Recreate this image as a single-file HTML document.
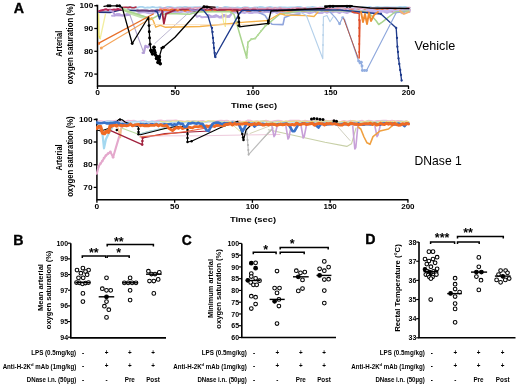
<!DOCTYPE html>
<html><head><meta charset="utf-8"><style>
html,body{margin:0;padding:0;background:#fff;}
svg{display:block;font-family:"Liberation Sans", sans-serif;filter:blur(0.35px);}
</style></head><body>
<svg width="520" height="386" viewBox="0 0 520 386" font-family='"Liberation Sans", sans-serif'>
<rect width="520" height="386" fill="#fff"/>
<path d="M96.0,5.5 H97.5 V86.0 H408.8" fill="none" stroke="#000" stroke-width="1.5"/>
<line x1="94.3" y1="5.7" x2="97.5" y2="5.7" stroke="#000" stroke-width="1.3" />
<text x="93.2" y="8.1" font-size="6.9" text-anchor="end" font-weight="bold" fill="#000" textLength="13.7" lengthAdjust="spacingAndGlyphs" >100</text>
<line x1="94.3" y1="28.5" x2="97.5" y2="28.5" stroke="#000" stroke-width="1.3" />
<text x="93.2" y="30.9" font-size="6.9" text-anchor="end" font-weight="bold" fill="#000" textLength="9.3" lengthAdjust="spacingAndGlyphs" >90</text>
<line x1="94.3" y1="51.3" x2="97.5" y2="51.3" stroke="#000" stroke-width="1.3" />
<text x="93.2" y="53.699999999999996" font-size="6.9" text-anchor="end" font-weight="bold" fill="#000" textLength="9.3" lengthAdjust="spacingAndGlyphs" >80</text>
<line x1="94.3" y1="74.1" x2="97.5" y2="74.1" stroke="#000" stroke-width="1.3" />
<text x="93.2" y="76.5" font-size="6.9" text-anchor="end" font-weight="bold" fill="#000" textLength="9.3" lengthAdjust="spacingAndGlyphs" >70</text>
<line x1="97.5" y1="86.0" x2="97.5" y2="89.0" stroke="#000" stroke-width="1.3" />
<text x="97.5" y="95.3" font-size="6.9" text-anchor="middle" font-weight="bold" fill="#000" textLength="4.7" lengthAdjust="spacingAndGlyphs" >0</text>
<line x1="175.25" y1="86.0" x2="175.25" y2="89.0" stroke="#000" stroke-width="1.3" />
<text x="175.25" y="95.3" font-size="6.9" text-anchor="middle" font-weight="bold" fill="#000" textLength="9.3" lengthAdjust="spacingAndGlyphs" >50</text>
<line x1="253.0" y1="86.0" x2="253.0" y2="89.0" stroke="#000" stroke-width="1.3" />
<text x="253.0" y="95.3" font-size="6.9" text-anchor="middle" font-weight="bold" fill="#000" textLength="13.4" lengthAdjust="spacingAndGlyphs" >100</text>
<line x1="330.75" y1="86.0" x2="330.75" y2="89.0" stroke="#000" stroke-width="1.3" />
<text x="330.75" y="95.3" font-size="6.9" text-anchor="middle" font-weight="bold" fill="#000" textLength="13.4" lengthAdjust="spacingAndGlyphs" >150</text>
<line x1="408.5" y1="86.0" x2="408.5" y2="89.0" stroke="#000" stroke-width="1.3" />
<text x="408.5" y="95.3" font-size="6.9" text-anchor="middle" font-weight="bold" fill="#000" textLength="13.4" lengthAdjust="spacingAndGlyphs" >200</text>
<path d="M95.4,119.3 H96.9 V199.8 H408.4" fill="none" stroke="#000" stroke-width="1.5"/>
<line x1="93.7" y1="119.5" x2="96.9" y2="119.5" stroke="#000" stroke-width="1.3" />
<text x="92.60000000000001" y="121.9" font-size="6.9" text-anchor="end" font-weight="bold" fill="#000" textLength="13.7" lengthAdjust="spacingAndGlyphs" >100</text>
<line x1="93.7" y1="142.0" x2="96.9" y2="142.0" stroke="#000" stroke-width="1.3" />
<text x="92.60000000000001" y="144.4" font-size="6.9" text-anchor="end" font-weight="bold" fill="#000" textLength="9.3" lengthAdjust="spacingAndGlyphs" >90</text>
<line x1="93.7" y1="164.7" x2="96.9" y2="164.7" stroke="#000" stroke-width="1.3" />
<text x="92.60000000000001" y="167.1" font-size="6.9" text-anchor="end" font-weight="bold" fill="#000" textLength="9.3" lengthAdjust="spacingAndGlyphs" >80</text>
<line x1="93.7" y1="187.4" x2="96.9" y2="187.4" stroke="#000" stroke-width="1.3" />
<text x="92.60000000000001" y="189.8" font-size="6.9" text-anchor="end" font-weight="bold" fill="#000" textLength="9.3" lengthAdjust="spacingAndGlyphs" >70</text>
<line x1="96.9" y1="199.8" x2="96.9" y2="202.8" stroke="#000" stroke-width="1.3" />
<text x="96.9" y="209.10000000000002" font-size="6.9" text-anchor="middle" font-weight="bold" fill="#000" textLength="4.7" lengthAdjust="spacingAndGlyphs" >0</text>
<line x1="174.65" y1="199.8" x2="174.65" y2="202.8" stroke="#000" stroke-width="1.3" />
<text x="174.65" y="209.10000000000002" font-size="6.9" text-anchor="middle" font-weight="bold" fill="#000" textLength="9.3" lengthAdjust="spacingAndGlyphs" >50</text>
<line x1="252.4" y1="199.8" x2="252.4" y2="202.8" stroke="#000" stroke-width="1.3" />
<text x="252.4" y="209.10000000000002" font-size="6.9" text-anchor="middle" font-weight="bold" fill="#000" textLength="13.4" lengthAdjust="spacingAndGlyphs" >100</text>
<line x1="330.15" y1="199.8" x2="330.15" y2="202.8" stroke="#000" stroke-width="1.3" />
<text x="330.15" y="209.10000000000002" font-size="6.9" text-anchor="middle" font-weight="bold" fill="#000" textLength="13.4" lengthAdjust="spacingAndGlyphs" >150</text>
<line x1="407.9" y1="199.8" x2="407.9" y2="202.8" stroke="#000" stroke-width="1.3" />
<text x="407.9" y="209.10000000000002" font-size="6.9" text-anchor="middle" font-weight="bold" fill="#000" textLength="13.4" lengthAdjust="spacingAndGlyphs" >200</text>
<g transform="translate(61.6,43.8) rotate(-90)"><text x="0" y="0" font-size="8.5" font-weight="bold" text-anchor="middle" textLength="26" lengthAdjust="spacingAndGlyphs">Arterial</text></g>
<g transform="translate(73.2,44.0) rotate(-90)"><text x="0" y="0" font-size="8.6" font-weight="bold" text-anchor="middle" textLength="80.5" lengthAdjust="spacingAndGlyphs">oxygen saturation (%)</text></g>
<g transform="translate(61.6,157.4) rotate(-90)"><text x="0" y="0" font-size="8.5" font-weight="bold" text-anchor="middle" textLength="26" lengthAdjust="spacingAndGlyphs">Arterial</text></g>
<g transform="translate(73.2,156.6) rotate(-90)"><text x="0" y="0" font-size="8.6" font-weight="bold" text-anchor="middle" textLength="80.5" lengthAdjust="spacingAndGlyphs">oxygen saturation (%)</text></g>
<text x="254.1" y="108.0" font-size="8.0" text-anchor="middle" font-weight="bold" fill="#000" textLength="46.2" lengthAdjust="spacingAndGlyphs" >Time (sec)</text>
<text x="253.0" y="221.8" font-size="8.0" text-anchor="middle" font-weight="bold" fill="#000" textLength="46.2" lengthAdjust="spacingAndGlyphs" >Time (sec)</text>
<text x="414.6" y="49.6" font-size="13" text-anchor="start" font-weight="normal" fill="#000" textLength="40.6" lengthAdjust="spacingAndGlyphs" >Vehicle</text>
<text x="414.6" y="164.6" font-size="13" text-anchor="start" font-weight="normal" fill="#000" textLength="47.2" lengthAdjust="spacingAndGlyphs" >DNase 1</text>
<text x="13.8" y="13.1" font-size="14.2" text-anchor="start" font-weight="bold" fill="#000" stroke="#000" stroke-width="0.35">A</text>
<defs><clipPath id="clipTop"><rect x="98.3" y="2" width="314" height="83"/></clipPath><clipPath id="clipBot"><rect x="96" y="115" width="316" height="84"/></clipPath></defs>
<g clip-path="url(#clipTop)">
<polyline points="120.0,7.0 122.5,7.8 125.0,7.7 127.5,7.1 130.0,7.4 132.5,7.3 135.0,7.6 137.5,7.7 140.0,6.9 142.5,6.8 145.0,7.8 147.5,7.3 150.0,7.7 152.5,6.8 155.0,7.3 157.5,7.7 160.0,7.1 162.5,7.9 165.0,7.9 167.5,6.8 170.0,6.8 172.5,7.4 175.0,7.9 177.5,7.3 180.0,7.1 182.5,7.3 185.0,6.8 187.5,7.1 190.0,7.3 192.5,7.4 195.0,7.1 197.5,7.1 200.0,7.1 202.5,7.4 205.0,7.1 207.5,6.8 210.0,7.8 212.5,7.5 215.0,7.6 217.5,7.0 220.0,8.0 222.5,7.8 225.0,6.9 227.5,7.2 230.0,7.7 232.5,7.7 235.0,7.9 237.5,7.3 240.0,7.8 242.5,7.6 245.0,7.2 247.5,7.5 250.0,7.9 252.5,7.8 255.0,7.4 257.5,7.5 260.0,6.8 262.5,7.1 265.0,7.8 267.5,7.3 270.0,7.0 272.5,7.5 275.0,7.6 277.5,7.6 280.0,7.2 282.5,7.3 285.0,7.4 287.5,7.7 290.0,7.4 292.5,7.3 295.0,7.4 297.5,6.8 300.0,6.9 302.5,7.6 305.0,8.0 307.5,7.5 310.0,7.3 312.5,7.0 315.0,7.4 317.5,8.0 320.0,7.7 322.5,7.4 325.0,7.8 327.5,7.1 330.0,7.4 332.5,7.9 335.0,7.5 337.5,7.4 340.0,7.1 342.5,7.5 345.0,7.9 347.5,6.8 350.0,7.7 352.5,7.8 355.0,7.9 357.5,7.7 360.0,7.8 362.5,7.4 365.0,7.5 367.5,7.3 370.0,6.9 372.5,7.8 375.0,7.5 377.5,7.0 380.0,7.4 382.5,7.4 385.0,7.2 387.5,7.2 390.0,7.4 392.5,7.5 395.0,7.5 397.5,7.3 400.0,6.8 402.5,7.1 405.0,7.0 407.5,7.5 410.0,7.8" fill="none" stroke="#a9d4ef" stroke-width="1.8" stroke-linejoin="round" stroke-linecap="round" />
<polyline points="98.0,12.2 110.0,12.4 120.0,10.0 138.0,10.6 155.0,11.0 157.3,12.0" fill="none" stroke="#24327a" stroke-width="1.7" stroke-linejoin="round" stroke-linecap="round" />
<polyline points="160.0,10.9 163.0,10.7 166.0,10.9 169.0,10.5 172.0,11.1 175.0,11.1 178.0,11.0 181.0,10.5 184.0,10.8 187.0,10.6 190.0,10.5 193.0,11.3 196.0,11.3 199.0,10.3 202.0,11.2 205.0,10.9 208.0,10.7 211.0,10.6 214.0,11.0 217.0,10.8 220.0,11.0 223.0,11.0 226.0,10.4 229.0,11.1 232.0,11.3 235.0,11.3 238.0,10.9 241.0,10.3 244.0,10.3 247.0,10.4 250.0,11.2 253.0,10.6 256.0,10.7 259.0,11.2 262.0,10.6 265.0,10.8 268.0,10.7 271.0,10.4 274.0,10.9 277.0,11.1 280.0,10.5 283.0,10.5 286.0,10.7 289.0,10.3 292.0,10.8 295.0,11.1 298.0,11.0 301.0,10.8 304.0,11.2 307.0,10.4 310.0,10.9 313.0,10.7 316.0,10.9 319.0,10.4 322.0,11.1 325.0,10.4 328.0,10.5 331.0,11.1 334.0,11.2 337.0,10.7 340.0,10.7 343.0,10.5 346.0,10.6 349.0,10.9 352.0,10.5 355.0,10.4 358.0,10.8 361.0,10.5 364.0,10.9 367.0,11.1 370.0,11.1 373.0,10.8 376.0,10.6 379.0,10.7 382.0,10.3 385.0,11.0 388.0,10.6 391.0,10.6 394.0,10.4 397.0,10.7 400.0,10.9 403.0,10.7 406.0,11.2 409.0,11.0" fill="none" stroke="#31458f" stroke-width="1.0" stroke-linejoin="round" stroke-linecap="round" />
<polyline points="112.0,15.7 114.5,15.7 117.0,13.9 119.5,14.0 122.0,15.5 124.5,15.3 127.0,13.8 129.5,13.1 132.0,13.7 134.5,13.7 137.0,13.7 139.5,12.8 142.0,12.2 144.5,12.1 147.0,12.7 149.5,13.3 152.0,13.2 154.5,12.4 157.0,12.2 159.5,11.8 162.0,11.4 164.5,11.4 167.0,12.2 169.5,11.9 172.0,12.1 174.5,13.1 177.0,12.4 179.5,12.4 182.0,11.8 184.5,11.3 187.0,12.0 189.5,11.6 192.0,12.3 194.5,13.3 197.0,16.8 199.5,15.9 202.0,17.3 204.5,17.1 207.0,17.0 209.5,17.3 212.0,17.0 214.5,17.1 217.0,16.2 219.5,17.5 222.0,17.4 224.5,15.8 227.0,17.0 229.5,16.9 232.0,12.2 234.5,12.4 237.0,12.3 239.5,13.1 242.0,12.3 244.5,13.0 247.0,12.0 249.5,13.1 252.0,13.1 254.5,12.2 257.0,12.4 259.5,13.1 262.0,12.7 264.5,12.3 267.0,11.7 269.5,11.9 272.0,12.7 274.5,11.6 277.0,13.1 279.5,11.8 282.0,13.1 284.5,11.9 287.0,13.2 289.5,12.7 292.0,12.3 294.5,12.3 297.0,12.6 299.5,12.5 302.0,11.9 304.5,11.7 307.0,12.3 309.5,13.2 312.0,12.5 314.5,11.5 317.0,12.9 319.5,12.8 322.0,13.1 324.5,11.7 327.0,12.8 329.5,11.4 332.0,12.6 334.5,11.8 337.0,11.8 339.5,13.1 342.0,11.5 344.5,12.3 347.0,13.0 349.5,11.8 352.0,11.7 354.5,13.1 357.0,12.1 359.5,12.7 362.0,11.4 364.5,12.0 367.0,11.6 369.5,12.6 372.0,11.5 374.5,13.2 377.0,11.4 379.5,12.8 382.0,11.3 384.5,11.8 387.0,12.9 389.5,11.6 392.0,11.7 394.5,12.7 397.0,12.1 399.5,11.4 402.0,13.3 404.5,11.6 407.0,11.4 409.5,12.0" fill="none" stroke="#bfaee4" stroke-width="2.0" stroke-linejoin="round" stroke-linecap="round" />
<polyline points="98.0,10.9 100.0,10.8 102.0,10.2 104.0,9.8 106.0,9.3 108.0,10.1 110.0,9.7 112.0,10.0 114.0,9.4 116.0,9.8 118.0,9.0 120.0,9.6 122.0,9.4" fill="none" stroke="#b82858" stroke-width="2.0" stroke-linejoin="round" stroke-linecap="round" />
<polyline points="122.0,7.7 124.0,7.2 126.0,7.2 128.0,7.6 130.0,7.1 132.0,7.8 134.0,7.8 136.0,7.0" fill="none" stroke="#b03048" stroke-width="1.6" stroke-linejoin="round" stroke-linecap="round" />
<polyline points="137.0,10.5 139.5,10.6 142.0,10.5 144.5,10.5 147.0,10.5 149.5,10.8 152.0,10.4 154.5,10.7 157.0,10.1 159.5,10.4" fill="none" stroke="#6a3a78" stroke-width="1.8" stroke-linejoin="round" stroke-linecap="round" />
<polyline points="160.0,9.5 162.5,10.1 165.0,9.8 167.5,10.2 170.0,10.2 172.5,9.2 175.0,9.1 177.5,10.6 180.0,9.6 182.5,9.5 185.0,10.9 187.5,9.9 190.0,10.6 192.5,10.0 195.0,10.3 197.5,9.4 200.0,10.2 202.5,10.7 205.0,10.0 207.5,10.4 210.0,10.3 212.5,9.2 215.0,10.5 217.5,10.2 220.0,9.6 222.5,9.2 225.0,10.7 227.5,10.0 230.0,10.4 232.5,10.7 235.0,10.4 237.5,10.8 240.0,9.8 242.5,10.5 245.0,9.9 247.5,10.8 250.0,10.7 252.5,9.3 255.0,9.3 257.5,9.5 260.0,10.8 262.5,9.9 265.0,10.2 267.5,9.6 270.0,10.0 272.5,9.8 275.0,9.7 277.5,10.2 280.0,10.2 282.5,10.7 285.0,10.3 287.5,10.8 290.0,10.6 292.5,10.9 295.0,10.3 297.5,9.4 300.0,10.6 302.5,10.8 305.0,10.7 307.5,10.1 310.0,10.4 312.5,9.5 315.0,10.6 317.5,10.1 320.0,9.6 322.5,9.2 325.0,10.6 327.5,10.9 330.0,9.3 332.5,10.5 335.0,9.8 337.5,9.4 340.0,9.6 342.5,10.5 345.0,10.7 347.5,9.2 350.0,10.2 352.5,9.2 355.0,10.4 357.5,9.7 360.0,10.7 362.5,10.9 365.0,10.0 367.5,10.9 370.0,9.7 372.5,9.2 375.0,10.2 377.5,9.2 380.0,9.5 382.5,9.8 385.0,10.2 387.5,9.4 390.0,9.2 392.5,10.7 395.0,9.7 397.5,10.8 400.0,10.7 402.5,9.8 405.0,9.9 407.5,10.0 410.0,10.3" fill="none" stroke="#ee6a2a" stroke-width="1.9" stroke-linejoin="round" stroke-linecap="round" />
<polyline points="180.0,9.0 182.5,8.8 185.0,9.2 187.5,8.8 190.0,8.7 192.5,9.2 195.0,10.1 197.5,9.9 200.0,9.8 202.5,9.0 205.0,9.5 207.5,9.0 210.0,8.9 212.5,8.8 215.0,8.9 217.5,10.1 220.0,9.9 222.5,9.9 225.0,9.9 227.5,8.9 230.0,9.1 232.5,9.6 235.0,9.8 237.5,10.0 240.0,10.0 242.5,8.7 245.0,9.6 247.5,9.7 250.0,9.4 252.5,8.9 255.0,9.4 257.5,8.7 260.0,10.1 262.5,10.0 265.0,9.5 267.5,9.1 270.0,10.1 272.5,9.5 275.0,10.0 277.5,10.0 280.0,9.4 282.5,9.3 285.0,9.6 287.5,9.3 290.0,8.9 292.5,9.1 295.0,9.9 297.5,8.7 300.0,8.7 302.5,9.6 305.0,9.0 307.5,9.5 310.0,9.4 312.5,9.1 315.0,10.2 317.5,8.9 320.0,9.3 322.5,8.9 325.0,9.6 327.5,9.0 330.0,9.2" fill="none" stroke="#a52a48" stroke-width="2.0" stroke-linejoin="round" stroke-linecap="round" />
<polyline points="190.0,9.6 192.0,10.2 194.0,10.2 196.0,10.4 198.0,9.8 200.0,9.8 202.0,10.2 204.0,10.2" fill="none" stroke="#9a86d0" stroke-width="1.8" stroke-linejoin="round" stroke-linecap="round" />
<polyline points="160.0,7.8 162.5,8.8 165.0,7.7 167.5,8.5 170.0,7.6 172.5,7.8 175.0,8.9 177.5,7.8 180.0,8.4 182.5,8.1 185.0,8.1 187.5,8.2 190.0,7.8 192.5,8.7 195.0,7.6 197.5,7.8 200.0,7.5 202.5,7.9 205.0,8.1 207.5,8.8 210.0,8.0 212.5,7.7 215.0,7.9 217.5,8.9 220.0,7.6 222.5,8.4 225.0,8.0 227.5,8.4 230.0,8.0 232.5,8.5 235.0,8.2 237.5,8.4 240.0,8.8 242.5,8.3 245.0,7.7 247.5,7.6 250.0,8.8 252.5,8.2 255.0,7.8 257.5,8.8 260.0,8.3 262.5,8.5 265.0,8.7 267.5,7.9 270.0,8.0 272.5,8.7 275.0,7.7 277.5,8.6 280.0,7.6 282.5,8.5 285.0,8.5 287.5,8.8 290.0,8.7 292.5,8.2 295.0,7.8 297.5,7.7 300.0,8.2 302.5,8.2 305.0,7.6 307.5,8.8 310.0,8.2 312.5,8.5 315.0,7.8 317.5,7.8 320.0,7.5 322.5,8.0 325.0,7.9 327.5,8.1 330.0,8.0 332.5,8.7 335.0,8.7 337.5,7.7 340.0,8.1 342.5,7.7 345.0,8.4 347.5,8.9 350.0,7.8 352.5,8.6 355.0,7.9 357.5,7.5 360.0,8.6 362.5,8.0 365.0,7.7 367.5,8.1 370.0,7.8 372.5,8.1 375.0,8.1 377.5,8.1 380.0,8.3 382.5,7.9 385.0,7.6 387.5,7.6 390.0,7.6 392.5,8.2 395.0,8.0 397.5,8.6 400.0,8.2 402.5,8.5 405.0,8.9 407.5,7.6 410.0,7.5" fill="none" stroke="#e09ab8" stroke-width="1.3" stroke-linejoin="round" stroke-linecap="round" />
<polyline points="330.0,10.5 332.5,10.4 335.0,10.1 337.5,11.1 340.0,9.9 342.5,10.6 345.0,11.2 347.5,10.0 350.0,10.7 352.5,10.8 355.0,10.0 357.5,10.4 360.0,10.9 362.5,10.5 365.0,10.9 367.5,10.1 370.0,10.2 372.5,10.1 375.0,10.6 377.5,11.2 380.0,10.7 382.5,11.0 385.0,10.4 387.5,10.9 390.0,10.0 392.5,10.3 395.0,10.8 397.5,10.9 400.0,10.5 402.5,10.0 405.0,10.3 407.5,10.2 410.0,10.3" fill="none" stroke="#c8b8ee" stroke-width="2.2" stroke-linejoin="round" stroke-linecap="round" />
<polyline points="203.5,6.2 215.0,7.2" fill="none" stroke="#3a1a1a" stroke-width="1.6" stroke-linejoin="round" stroke-linecap="round" />
<polyline points="325.0,6.3 352.0,6.0" fill="none" stroke="#000" stroke-width="1.9" stroke-linejoin="round" stroke-linecap="round" />
<polyline points="208.0,14.6 212.0,16.5 216.0,15.0 220.0,17.0 224.0,14.8 228.0,16.4 231.0,14.8" fill="none" stroke="#b9a6e0" stroke-width="1.8" stroke-linejoin="round" stroke-linecap="round" />
<polyline points="260.0,13.0 265.0,15.4 268.0,20.0 272.0,24.2 283.0,24.6 284.5,17.5 291.0,15.0 300.0,14.0" fill="none" stroke="#8fa4dc" stroke-width="1.6" stroke-linejoin="round" stroke-linecap="round" />
<polyline points="98.4,13.6 98.8,36.0 100.2,38.5" fill="none" stroke="#e8e050" stroke-width="1.6" stroke-linejoin="round" stroke-linecap="round" />
<polyline points="100.2,38.5 105.5,14.0" fill="none" stroke="#f2eea0" stroke-width="1.3" stroke-linejoin="round" stroke-linecap="round" />
<polyline points="222.0,13.0 223.6,22.0 225.4,27.0 226.0,14.0" fill="none" stroke="#f2ec8a" stroke-width="1.0" stroke-linejoin="round" stroke-linecap="round" />
<polyline points="110.0,10.5 113.1,11.8 115.0,15.2 124.0,15.4 129.8,14.8" fill="none" stroke="#b8a0dc" stroke-width="2.0" stroke-linejoin="round" stroke-linecap="round" />
<polyline points="142.6,52.8 143.8,52.9 145.4,45.8 147.8,47.3 150.0,44.0" fill="none" stroke="#b8a0dc" stroke-width="2.2" stroke-linejoin="round" stroke-linecap="round" />
<polyline points="129.8,14.8 143.8,52.9" fill="none" stroke="#b0a4cc" stroke-width="1.1" stroke-linejoin="round" stroke-linecap="round" />
<polyline points="154.8,43.5 189.8,11.7" fill="none" stroke="#b6b0cc" stroke-width="0.9" stroke-linejoin="round" stroke-linecap="round" />
<polyline points="124.0,9.5 132.0,13.5 140.0,16.2 148.4,18.5" fill="none" stroke="#c4e2ae" stroke-width="3.2" stroke-linejoin="round" stroke-linecap="round" />
<polyline points="122.0,9.5 124.0,10.4 131.3,12.2 138.5,14.5 147.6,17.6 150.4,19.6 160.0,14.5 170.0,13.6 189.6,14.2 197.0,12.0 229.5,11.5 234.0,14.3 240.0,35.0 246.7,57.8 248.0,42.3 251.3,39.2 255.2,38.4 265.3,26.0 269.2,22.9 280.0,14.0 300.0,11.0 330.0,10.5 365.0,11.5 372.0,16.0 376.3,21.0 378.7,24.5 382.2,22.2 395.0,12.0 409.0,11.0" fill="none" stroke="#a9d48e" stroke-width="1.5" stroke-linejoin="round" stroke-linecap="round" />
<circle cx="246.7" cy="57.8" r="1.1" fill="#b5dc9c"/>
<circle cx="247.2" cy="52.0" r="1.1" fill="#b5dc9c"/>
<circle cx="247.6" cy="47.0" r="1.1" fill="#b5dc9c"/>
<circle cx="248.0" cy="42.3" r="1.1" fill="#b5dc9c"/>
<circle cx="251.3" cy="39.2" r="1.1" fill="#b5dc9c"/>
<circle cx="255.2" cy="38.4" r="1.1" fill="#b5dc9c"/>
<circle cx="258.0" cy="35.0" r="1.1" fill="#b5dc9c"/>
<circle cx="261.0" cy="31.0" r="1.1" fill="#b5dc9c"/>
<circle cx="265.3" cy="26.0" r="1.1" fill="#b5dc9c"/>
<polyline points="98.3,43.5 153.3,14.0" fill="none" stroke="#e8702a" stroke-width="1.4" stroke-linejoin="round" stroke-linecap="round" />
<polyline points="101.3,48.0 152.1,17.5" fill="none" stroke="#f5a55a" stroke-width="1.1" stroke-linejoin="round" stroke-linecap="round" />
<circle cx="98.3" cy="43.5" r="1.8" fill="#e8702a"/>
<circle cx="101.3" cy="48.0" r="1.5" fill="#f5a55a"/>
<polyline points="149.4,18.1 153.0,20.0 155.8,27.2 160.3,25.4 165.0,27.2 200.0,26.5 245.0,22.1 268.3,20.5 280.0,13.5 285.0,15.0 306.0,15.6 314.0,16.5 318.0,12.0" fill="none" stroke="#f5b24a" stroke-width="1.4" stroke-linejoin="round" stroke-linecap="round" />
<polyline points="150.0,24.5 245.0,24.8 270.0,23.0" fill="none" stroke="#f8dcb8" stroke-width="0.8" stroke-linejoin="round" stroke-linecap="round" />
<polyline points="155.0,11.0 157.3,12.0 159.6,19.0 161.0,13.8 163.0,12.0" fill="none" stroke="#1f3b8c" stroke-width="1.5" stroke-linejoin="round" stroke-linecap="round" />
<polyline points="200.0,9.2 203.5,10.4 208.0,16.0 211.7,28.3 213.0,38.0 214.0,48.0 214.8,57.0 238.9,14.3 242.0,10.5 260.0,10.5 300.0,10.0 340.0,10.0 381.0,14.0 396.2,28.0 397.4,46.7 398.5,58.4 400.2,70.0 401.6,80.5" fill="none" stroke="#1f3b8c" stroke-width="1.35" stroke-linejoin="round" stroke-linecap="round" />
<circle cx="212.0" cy="28.0" r="1.15" fill="#1f3b8c"/>
<circle cx="212.6" cy="32.0" r="1.15" fill="#1f3b8c"/>
<circle cx="213.0" cy="38.0" r="1.15" fill="#1f3b8c"/>
<circle cx="213.5" cy="43.0" r="1.15" fill="#1f3b8c"/>
<circle cx="214.0" cy="48.0" r="1.15" fill="#1f3b8c"/>
<circle cx="214.8" cy="53.0" r="1.15" fill="#1f3b8c"/>
<circle cx="215.5" cy="57.1" r="1.15" fill="#1f3b8c"/>
<circle cx="396.2" cy="28.0" r="1.15" fill="#1f3b8c"/>
<circle cx="397.0" cy="38.0" r="1.15" fill="#1f3b8c"/>
<circle cx="397.4" cy="46.7" r="1.15" fill="#1f3b8c"/>
<circle cx="398.0" cy="52.0" r="1.15" fill="#1f3b8c"/>
<circle cx="398.5" cy="58.4" r="1.15" fill="#1f3b8c"/>
<circle cx="399.3" cy="64.0" r="1.15" fill="#1f3b8c"/>
<circle cx="400.2" cy="70.0" r="1.15" fill="#1f3b8c"/>
<circle cx="401.0" cy="75.0" r="1.15" fill="#1f3b8c"/>
<circle cx="401.6" cy="80.5" r="1.15" fill="#1f3b8c"/>
<circle cx="381.0" cy="14.0" r="1.15" fill="#1f3b8c"/>
<polyline points="162.1,10.9 163.9,23.6 166.0,13.8 175.0,10.0" fill="none" stroke="#a0203c" stroke-width="1.8" stroke-linejoin="round" stroke-linecap="round" />
<polyline points="104.0,6.3 107.3,5.8 118.0,5.8 122.2,7.3 132.2,43.5 148.6,17.0 149.0,25.6 149.3,31.8 149.6,38.0 150.1,44.2 150.9,50.4 151.7,52.0 154.0,47.3 154.3,50.4 155.6,55.1 157.1,56.7 157.9,59.0 158.7,61.3 160.2,63.7 159.4,56.7 161.8,48.1 163.3,47.3 175.0,37.2 200.3,9.3 204.0,6.8 208.0,7.2 212.0,8.5" fill="none" stroke="#000" stroke-width="1.3" stroke-linejoin="round" stroke-linecap="round" />
<polyline points="237.0,11.0 238.3,14.3 238.9,20.5 239.7,26.8 245.0,26.2 268.3,23.3 269.2,18.5 271.0,11.0 300.0,9.5 324.0,8.3 329.2,6.2 351.0,6.2 370.0,8.0 409.0,8.5" fill="none" stroke="#000" stroke-width="1.3" stroke-linejoin="round" stroke-linecap="round" />
<circle cx="150.9" cy="50.4" r="1.75" fill="#000"/>
<circle cx="151.7" cy="52.0" r="1.75" fill="#000"/>
<circle cx="154.0" cy="47.3" r="1.75" fill="#000"/>
<circle cx="154.3" cy="50.4" r="1.75" fill="#000"/>
<circle cx="155.6" cy="55.1" r="1.75" fill="#000"/>
<circle cx="157.1" cy="56.7" r="1.75" fill="#000"/>
<circle cx="157.9" cy="59.0" r="1.75" fill="#000"/>
<circle cx="158.7" cy="61.3" r="1.75" fill="#000"/>
<circle cx="160.2" cy="63.7" r="1.75" fill="#000"/>
<circle cx="159.4" cy="56.7" r="1.75" fill="#000"/>
<circle cx="156.5" cy="58.5" r="1.75" fill="#000"/>
<circle cx="158.0" cy="62.5" r="1.75" fill="#000"/>
<circle cx="159.5" cy="60.0" r="1.75" fill="#000"/>
<circle cx="155.0" cy="52.5" r="1.75" fill="#000"/>
<circle cx="152.5" cy="54.0" r="1.75" fill="#000"/>
<circle cx="132.2" cy="43.5" r="1.45" fill="#000"/>
<circle cx="149.0" cy="25.6" r="1.45" fill="#000"/>
<circle cx="149.3" cy="31.8" r="1.45" fill="#000"/>
<circle cx="149.6" cy="38.0" r="1.45" fill="#000"/>
<circle cx="150.1" cy="44.2" r="1.45" fill="#000"/>
<circle cx="150.9" cy="50.4" r="1.45" fill="#000"/>
<circle cx="151.7" cy="52.0" r="1.45" fill="#000"/>
<circle cx="154.0" cy="47.3" r="1.45" fill="#000"/>
<circle cx="154.3" cy="50.4" r="1.45" fill="#000"/>
<circle cx="155.6" cy="55.1" r="1.45" fill="#000"/>
<circle cx="157.1" cy="56.7" r="1.45" fill="#000"/>
<circle cx="157.9" cy="59.0" r="1.45" fill="#000"/>
<circle cx="158.7" cy="61.3" r="1.45" fill="#000"/>
<circle cx="160.2" cy="63.7" r="1.45" fill="#000"/>
<circle cx="159.4" cy="56.7" r="1.45" fill="#000"/>
<circle cx="161.8" cy="48.1" r="1.45" fill="#000"/>
<circle cx="163.3" cy="47.3" r="1.45" fill="#000"/>
<circle cx="156.5" cy="58.5" r="1.45" fill="#000"/>
<circle cx="158.0" cy="62.5" r="1.45" fill="#000"/>
<circle cx="238.8" cy="18.0" r="1.45" fill="#000"/>
<circle cx="238.8" cy="22.0" r="1.45" fill="#000"/>
<circle cx="238.8" cy="25.6" r="1.45" fill="#000"/>
<circle cx="268.3" cy="21.0" r="1.45" fill="#000"/>
<circle cx="268.3" cy="23.3" r="1.45" fill="#000"/>
<circle cx="108.0" cy="5.8" r="1.5" fill="#000"/>
<circle cx="110.0" cy="5.8" r="1.5" fill="#000"/>
<circle cx="117.0" cy="5.8" r="1.5" fill="#000"/>
<circle cx="119.5" cy="5.8" r="1.5" fill="#000"/>
<circle cx="330.0" cy="6.2" r="1.5" fill="#000"/>
<circle cx="333.0" cy="6.2" r="1.5" fill="#000"/>
<circle cx="347.0" cy="6.2" r="1.5" fill="#000"/>
<circle cx="350.0" cy="6.2" r="1.5" fill="#000"/>
<circle cx="204.0" cy="6.8" r="1.5" fill="#000"/>
<circle cx="207.0" cy="7.0" r="1.5" fill="#000"/>
<polyline points="300.0,12.0 306.4,15.5 322.8,58.7 323.4,16.7 327.0,15.5 330.0,21.8 333.0,17.0" fill="none" stroke="#b4d0ea" stroke-width="1.1" stroke-linejoin="round" stroke-linecap="round" />
<circle cx="323.0" cy="25.0" r="0.8" fill="#a8c8e4"/>
<circle cx="323.0" cy="35.0" r="0.8" fill="#a8c8e4"/>
<circle cx="323.0" cy="45.0" r="0.8" fill="#a8c8e4"/>
<polyline points="330.0,12.0 335.4,17.6 339.6,23.8 342.7,17.6 344.7,19.7 358.2,60.1 361.3,62.2 362.4,70.5 366.5,70.5 396.2,12.8 405.0,12.0" fill="none" stroke="#8fa8dc" stroke-width="1.15" stroke-linejoin="round" stroke-linecap="round" />
<circle cx="358.6" cy="61.0" r="1.45" fill="#93aee0"/>
<circle cx="360.0" cy="63.0" r="1.45" fill="#93aee0"/>
<circle cx="361.3" cy="62.2" r="1.45" fill="#93aee0"/>
<circle cx="362.0" cy="66.0" r="1.45" fill="#93aee0"/>
<circle cx="362.4" cy="70.5" r="1.45" fill="#93aee0"/>
<circle cx="364.5" cy="70.5" r="1.45" fill="#93aee0"/>
<circle cx="366.5" cy="70.5" r="1.45" fill="#93aee0"/>
<circle cx="339.6" cy="23.8" r="1.45" fill="#93aee0"/>
<circle cx="342.7" cy="17.6" r="1.45" fill="#93aee0"/>
<polyline points="343.7,18.7 358.2,58.0" fill="none" stroke="#b45a4a" stroke-width="1.0" stroke-linejoin="round" stroke-linecap="round" />
<polyline points="352.0,12.0 359.2,13.5 359.2,58.0 360.0,20.0" fill="none" stroke="#e0502a" stroke-width="1.4" stroke-linejoin="round" stroke-linecap="round" />
<circle cx="359.2" cy="20.0" r="1.0" fill="#e0502a"/>
<circle cx="359.2" cy="28.0" r="1.0" fill="#e0502a"/>
<circle cx="359.2" cy="36.0" r="1.0" fill="#e0502a"/>
<circle cx="359.2" cy="44.0" r="1.0" fill="#e0502a"/>
<circle cx="359.2" cy="52.0" r="1.0" fill="#e0502a"/>
<polyline points="361.0,12.0 363.0,22.0 365.0,14.0 367.0,24.0 369.0,13.0 371.0,21.0 374.0,15.0 378.0,12.0" fill="none" stroke="#f08a30" stroke-width="1.9" stroke-linejoin="round" stroke-linecap="round" />
<polyline points="400.0,11.0 404.0,14.0 409.0,12.0" fill="none" stroke="#f5b070" stroke-width="1.8" stroke-linejoin="round" stroke-linecap="round" />
</g>
<g clip-path="url(#clipBot)">
<polyline points="98.0,120.9 101.0,121.1 104.0,121.6 107.0,121.0 110.0,121.0 113.0,121.1 116.0,120.6 119.0,121.0 122.0,121.2 125.0,121.4 128.0,120.4 131.0,120.7 134.0,120.4 137.0,121.4 140.0,121.3 143.0,120.4 146.0,121.7 149.0,121.7 152.0,121.2 155.0,121.2 158.0,120.5 161.0,120.3 164.0,121.0 167.0,120.4 170.0,120.6 173.0,120.6 176.0,120.3 179.0,120.9 182.0,120.9 185.0,121.5 188.0,121.0 191.0,121.2 194.0,121.0 197.0,121.2 200.0,120.9 203.0,120.7 206.0,121.7 209.0,121.7 212.0,121.5 215.0,121.3 218.0,120.7 221.0,120.6 224.0,120.7 227.0,120.4 230.0,121.4 233.0,120.9 236.0,121.5 239.0,120.8 242.0,121.6 245.0,121.5 248.0,120.3 251.0,120.6 254.0,121.6 257.0,121.0 260.0,121.7 263.0,120.9 266.0,120.4 269.0,121.2 272.0,121.4 275.0,120.7 278.0,120.4 281.0,120.8 284.0,121.6 287.0,121.4 290.0,120.5 293.0,120.6 296.0,120.4 299.0,120.4 302.0,121.4 305.0,120.5 308.0,121.1 311.0,120.9 314.0,120.6 317.0,121.3 320.0,120.5 323.0,121.2 326.0,120.5 329.0,120.9 332.0,120.6 335.0,120.7 338.0,121.7 341.0,121.4 344.0,120.7 347.0,121.5 350.0,120.6 353.0,120.9 356.0,121.5 359.0,121.2 362.0,120.4 365.0,121.7 368.0,120.6 371.0,120.7 374.0,121.4 377.0,120.8 380.0,120.7 383.0,120.4 386.0,120.4 389.0,121.1 392.0,120.6 395.0,121.1 398.0,120.8 401.0,120.9 404.0,121.6 407.0,121.0" fill="none" stroke="#f0b8d8" stroke-width="1.5" stroke-linejoin="round" stroke-linecap="round" />
<polyline points="98.0,122.0 101.0,122.3 104.0,122.3 107.0,121.4 110.0,121.2 113.0,121.8 116.0,121.6 119.0,122.5 122.0,122.3 125.0,122.2 128.0,122.1 131.0,122.3 134.0,121.4 137.0,121.9 140.0,121.5 143.0,122.6 146.0,121.3 149.0,122.5 152.0,121.3 155.0,122.3 158.0,121.7 161.0,121.8 164.0,122.5 167.0,121.2 170.0,121.3 173.0,122.7 176.0,122.0 179.0,121.3 182.0,122.8 185.0,122.7 188.0,121.4 191.0,121.9 194.0,121.4 197.0,121.7 200.0,122.2 203.0,121.5 206.0,122.3 209.0,121.3 212.0,121.5 215.0,122.5 218.0,121.8 221.0,121.9 224.0,122.2 227.0,122.0 230.0,121.8 233.0,121.2 236.0,122.4 239.0,122.7 242.0,122.8 245.0,122.3 248.0,121.8 251.0,121.8 254.0,122.3 257.0,122.3 260.0,121.4 263.0,121.6 266.0,121.8 269.0,122.0 272.0,122.5 275.0,122.0 278.0,121.2 281.0,122.5 284.0,121.9 287.0,122.0 290.0,121.6 293.0,121.9 296.0,121.8 299.0,122.4 302.0,121.4 305.0,122.1 308.0,121.5 311.0,122.3 314.0,121.3 317.0,121.6 320.0,121.8 323.0,122.2 326.0,121.3 329.0,121.9 332.0,121.5 335.0,121.7 338.0,122.0 341.0,122.7 344.0,122.0 347.0,122.7 350.0,121.5 353.0,122.7 356.0,121.8 359.0,121.5 362.0,122.4 365.0,122.7 368.0,121.2 371.0,121.6 374.0,122.4 377.0,121.7 380.0,121.6 383.0,121.2 386.0,121.3 389.0,122.2 392.0,122.8 395.0,122.8 398.0,122.0 401.0,121.2 404.0,121.7 407.0,122.5" fill="none" stroke="#b0d8f0" stroke-width="1.6" stroke-linejoin="round" stroke-linecap="round" />
<polyline points="160.0,121.1 163.0,121.8 166.0,121.8 169.0,122.1 172.0,121.0 175.0,121.1 178.0,120.9 181.0,121.1 184.0,121.9 187.0,120.9 190.0,121.6 193.0,121.0 196.0,121.2 199.0,121.4 202.0,122.0 205.0,121.7 208.0,120.7 211.0,121.1 214.0,120.9 217.0,122.1 220.0,122.0 223.0,122.0 226.0,122.0 229.0,121.9 232.0,122.2 235.0,122.0 238.0,121.1 241.0,122.1 244.0,121.5 247.0,121.9 250.0,121.6 253.0,121.4 256.0,121.3 259.0,121.4 262.0,121.2 265.0,120.9 268.0,122.0 271.0,122.0 274.0,122.3 277.0,121.8 280.0,121.6 283.0,121.9 286.0,120.9 289.0,121.8 292.0,121.4 295.0,121.0 298.0,121.0 301.0,121.5 304.0,121.1 307.0,121.4 310.0,121.7 313.0,121.3 316.0,120.9 319.0,121.5 322.0,121.1 325.0,121.1 328.0,121.0 331.0,121.3 334.0,120.8 337.0,121.7 340.0,122.2 343.0,121.3 346.0,121.9 349.0,122.2 352.0,120.8 355.0,120.9 358.0,122.0 361.0,122.0 364.0,121.7 367.0,121.0 370.0,121.4 373.0,122.1 376.0,122.1 379.0,122.0 382.0,121.0 385.0,122.1 388.0,121.3 391.0,121.8 394.0,120.9 397.0,122.3 400.0,121.7 403.0,121.9 406.0,121.0 409.0,121.7" fill="none" stroke="#ece27a" stroke-width="1.0" stroke-linejoin="round" stroke-linecap="round" />
<polyline points="96.8,173.7 98.6,166.4 102.3,161.0 105.9,155.5 110.4,151.9 113.1,157.3 116.8,144.6 119.5,135.6 121.3,128.3 125.0,122.0" fill="none" stroke="#e4a8cc" stroke-width="2.1" stroke-linejoin="round" stroke-linecap="round" />
<circle cx="98.6" cy="166.4" r="1.3" fill="#e4a8cc"/>
<circle cx="100.5" cy="163.5" r="1.3" fill="#e4a8cc"/>
<circle cx="102.3" cy="161.0" r="1.3" fill="#e4a8cc"/>
<circle cx="104.0" cy="158.0" r="1.3" fill="#e4a8cc"/>
<circle cx="105.9" cy="155.5" r="1.3" fill="#e4a8cc"/>
<circle cx="108.0" cy="153.5" r="1.3" fill="#e4a8cc"/>
<circle cx="110.4" cy="151.9" r="1.3" fill="#e4a8cc"/>
<circle cx="113.1" cy="157.3" r="1.3" fill="#e4a8cc"/>
<polyline points="98.0,126.0 102.3,132.0 104.0,148.3 105.9,139.2 108.6,133.8 112.0,128.0" fill="none" stroke="#a4d8f0" stroke-width="2.2" stroke-linejoin="round" stroke-linecap="round" />
<polyline points="118.0,128.0 120.4,137.4 121.0,128.3" fill="none" stroke="#f6c08a" stroke-width="1.6" stroke-linejoin="round" stroke-linecap="round" />
<polyline points="109.5,130.1 142.2,144.6 142.6,137.8 165.0,133.7 190.0,132.0 210.0,131.0" fill="none" stroke="#a0203c" stroke-width="1.2" stroke-linejoin="round" stroke-linecap="round" />
<circle cx="142.2" cy="144.6" r="1.3" fill="#a0203c"/>
<circle cx="142.4" cy="141.0" r="1.3" fill="#a0203c"/>
<circle cx="142.6" cy="137.8" r="1.3" fill="#a0203c"/>
<polyline points="122.2,128.3 138.5,134.2 150.0,131.0 170.0,128.0" fill="none" stroke="#b8dca0" stroke-width="1.1" stroke-linejoin="round" stroke-linecap="round" />
<polyline points="140.5,133.7 165.0,127.4 180.0,126.0" fill="none" stroke="#a9cfe6" stroke-width="1.0" stroke-linejoin="round" stroke-linecap="round" />
<polyline points="140.0,136.3 170.0,135.8 200.0,135.8 243.0,135.0 280.0,134.5" fill="none" stroke="#eecadc" stroke-width="1.0" stroke-linejoin="round" stroke-linecap="round" />
<polyline points="228.5,121.0 240.8,132.0" fill="none" stroke="#d8dca0" stroke-width="1.0" stroke-linejoin="round" stroke-linecap="round" />
<polyline points="250.0,133.5 270.0,125.8" fill="none" stroke="#d0d0b0" stroke-width="0.9" stroke-linejoin="round" stroke-linecap="round" />
<polyline points="260.8,141.2 273.0,129.0" fill="none" stroke="#d0d0b0" stroke-width="0.9" stroke-linejoin="round" stroke-linecap="round" />
<polyline points="268.3,129.8 325.0,142.2 346.8,146.4 351.5,143.8 356.0,128.0" fill="none" stroke="#c8d0a8" stroke-width="1.1" stroke-linejoin="round" stroke-linecap="round" />
<polyline points="337.7,126.6 350.0,140.5" fill="none" stroke="#c8c8b8" stroke-width="0.9" stroke-linejoin="round" stroke-linecap="round" />
<polyline points="240.0,128.0 246.5,129.0 247.5,140.0 248.6,154.6 268.5,132.5 273.0,128.0" fill="none" stroke="#bcbcbc" stroke-width="1.2" stroke-linejoin="round" stroke-linecap="round" />
<circle cx="247.0" cy="134.0" r="1.1" fill="#b4b4b4"/>
<circle cx="247.5" cy="140.0" r="1.1" fill="#b4b4b4"/>
<circle cx="248.0" cy="145.0" r="1.1" fill="#b4b4b4"/>
<circle cx="248.3" cy="150.0" r="1.1" fill="#b4b4b4"/>
<circle cx="248.6" cy="154.6" r="1.1" fill="#b4b4b4"/>
<polyline points="272.0,126.5 274.0,136.6 275.0,135.1 277.0,126.5" fill="none" stroke="#c8a0d8" stroke-width="1.6" stroke-linejoin="round" stroke-linecap="round" />
<polyline points="286.0,126.5 288.0,139.0 289.0,137.5 291.0,126.5" fill="none" stroke="#c8a0d8" stroke-width="1.6" stroke-linejoin="round" stroke-linecap="round" />
<polyline points="301.2,126.5 303.2,138.0 304.2,136.5 306.2,126.5" fill="none" stroke="#c8a0d8" stroke-width="1.6" stroke-linejoin="round" stroke-linecap="round" />
<polyline points="352.8,126.5 354.8,149.0 355.8,147.5 357.8,126.5" fill="none" stroke="#c8a0d8" stroke-width="1.6" stroke-linejoin="round" stroke-linecap="round" />
<polyline points="375.0,126.5 377.0,136.6 378.0,135.1 380.0,126.5" fill="none" stroke="#c8a0d8" stroke-width="1.6" stroke-linejoin="round" stroke-linecap="round" />
<polyline points="358.0,127.0 360.8,129.0 364.0,137.0 367.0,142.8 370.0,144.3 373.0,136.6 380.0,131.0 388.5,129.0 392.0,126.0" fill="none" stroke="#f0a040" stroke-width="1.6" stroke-linejoin="round" stroke-linecap="round" />
<polyline points="96.8,130.0 101.0,131.0 110.0,128.0 118.6,119.6 122.2,119.8 125.0,122.0 138.5,126.9 138.5,134.2 140.5,134.7 165.0,128.5 176.0,126.5 187.5,126.6 187.5,142.0 191.5,141.2 220.8,127.4 237.7,121.2 242.3,133.5 243.5,140.0 246.0,130.0 250.0,126.0" fill="none" stroke="#000" stroke-width="1.1" stroke-linejoin="round" stroke-linecap="round" />
<circle cx="116.8" cy="130.1" r="1.25" fill="#000"/>
<circle cx="138.5" cy="129.0" r="1.25" fill="#000"/>
<circle cx="138.5" cy="132.0" r="1.25" fill="#000"/>
<circle cx="138.5" cy="134.2" r="1.25" fill="#000"/>
<circle cx="187.5" cy="130.0" r="1.25" fill="#000"/>
<circle cx="187.5" cy="134.0" r="1.25" fill="#000"/>
<circle cx="187.5" cy="138.0" r="1.25" fill="#000"/>
<circle cx="187.5" cy="142.0" r="1.25" fill="#000"/>
<circle cx="191.5" cy="141.2" r="1.25" fill="#000"/>
<circle cx="242.3" cy="134.0" r="1.25" fill="#000"/>
<circle cx="243.0" cy="137.5" r="1.25" fill="#000"/>
<circle cx="243.5" cy="140.0" r="1.25" fill="#000"/>
<circle cx="120.0" cy="119.6" r="1.25" fill="#000"/>
<polyline points="140.0,137.0 160.0,135.0 186.0,131.5 210.8,127.3 240.0,123.5" fill="none" stroke="#e8603a" stroke-width="1.1" stroke-linejoin="round" stroke-linecap="round" />
<polyline points="96.5,128.4 98.5,126.8 100.5,126.5 102.5,133.0 104.5,133.6 106.5,131.2 108.5,132.3 110.5,124.7 112.5,125.8 114.5,124.5 116.5,125.9 118.5,124.6 120.5,125.2" fill="none" stroke="#ef6a24" stroke-width="3.4" stroke-linejoin="round" stroke-linecap="round" />
<polyline points="96.5,122.5 98.5,123.3 100.5,123.2 102.5,123.0 104.5,122.6 106.5,123.4 108.5,123.4 110.5,123.0 112.5,123.0 114.5,122.6 116.5,122.3 118.5,122.8 120.5,124.7" fill="none" stroke="#3a72c8" stroke-width="2.6" stroke-linejoin="round" stroke-linecap="round" />
<polyline points="120.5,124.7 122.5,124.0 124.5,125.0 126.5,124.2 128.5,124.2 130.5,124.0 132.5,125.3 134.5,124.9 136.5,125.1 138.5,124.8 140.5,123.9 142.5,124.4 144.5,124.6 146.5,124.1 148.5,125.2 150.5,124.4 152.5,124.1 154.5,125.0 156.5,124.1 158.5,125.2 160.5,124.5 162.5,124.7 164.5,124.4 166.5,124.6 168.5,124.2 170.5,124.0 172.5,125.1 174.5,124.2 176.5,125.0 178.5,122.8" fill="none" stroke="#3a72c8" stroke-width="2.6" stroke-linejoin="round" stroke-linecap="round" />
<polyline points="120.5,125.2 122.5,125.9 124.5,125.4 126.5,125.8 128.5,125.4 130.5,124.1 132.5,125.8 134.5,125.2 136.5,124.6 138.5,124.4 140.5,125.7 142.5,125.2 144.5,125.9 146.5,125.5 148.5,125.9 150.5,125.1 152.5,125.4 154.5,125.2 156.5,124.5 158.5,125.9 160.5,124.6 162.5,125.6 164.5,125.9 166.5,125.3 168.5,128.0 170.5,129.3 172.5,130.6 174.5,128.8 176.5,127.3 178.5,128.1" fill="none" stroke="#ef6a24" stroke-width="2.9" stroke-linejoin="round" stroke-linecap="round" />
<polyline points="178.5,128.1 180.5,127.0 182.5,128.6 184.5,127.7 186.5,127.5 188.5,127.2 190.5,127.5 192.5,127.9 194.5,126.6 196.5,126.6 198.5,126.8 200.5,126.1 202.5,126.6 204.5,126.3 206.5,126.0 208.5,126.3 210.5,125.9 212.5,124.9 214.5,126.5 216.5,125.1 218.5,125.1 220.5,124.9 222.5,125.8 224.5,125.1" fill="none" stroke="#ef6a24" stroke-width="2.8" stroke-linejoin="round" stroke-linecap="round" />
<polyline points="178.5,122.8 180.5,123.9 182.5,123.8 184.5,126.9 186.5,126.5 188.5,123.3 190.5,123.5 192.5,122.7 194.5,123.2 196.5,123.7 198.5,122.8 200.5,123.8 202.5,123.7 204.5,126.7 206.5,130.3 208.5,131.1 210.5,127.5 212.5,123.9 214.5,123.0 216.5,122.5 218.5,122.6 220.5,123.5 222.5,123.9 224.5,123.2" fill="none" stroke="#3a72c8" stroke-width="2.6" stroke-linejoin="round" stroke-linecap="round" />
<polyline points="224.5,123.2 226.5,123.2 228.5,123.3 230.5,123.5 232.5,122.8 234.5,123.4 236.5,123.3 238.5,123.4 240.5,127.9 242.5,131.5 244.5,127.9 246.5,123.8 248.5,123.0 250.5,124.1 252.5,123.7 254.5,126.6 256.5,124.8 258.5,124.4 260.5,124.4 262.5,123.8 264.5,124.3 266.5,124.2 268.5,124.6 270.5,124.6 272.5,123.9 274.5,124.7 276.5,124.6 278.5,124.1 280.5,124.5 282.5,124.0 284.5,123.8 286.5,123.6 288.5,124.5 290.5,127.6 292.5,131.2 294.5,131.2 296.5,127.6 298.5,124.0 300.5,124.5 302.5,123.4 304.5,123.7 306.5,123.7 308.5,123.9 310.5,123.5 312.5,123.4 314.5,123.8 316.5,125.8 318.5,127.6 320.5,124.3 322.5,124.0 324.5,123.7 326.5,124.6 328.5,124.0 330.5,124.3 332.5,123.3 334.5,123.6 336.5,124.5 338.5,124.4 340.5,124.5 342.5,124.1 344.5,123.9 346.5,124.1 348.5,124.5 350.5,123.7 352.5,124.0 354.5,123.7 356.5,124.4 358.5,123.3 360.5,124.3 362.5,124.6 364.5,124.6 366.5,124.1 368.5,124.2 370.5,124.5 372.5,124.1 374.5,123.7 376.5,123.9 378.5,124.6 380.5,124.6 382.5,123.5 384.5,123.4 386.5,123.4 388.5,123.3 390.5,123.9 392.5,123.5 394.5,124.5 396.5,124.2 398.5,123.5 400.5,124.1 402.5,124.3 404.5,126.1 406.5,123.6 408.5,123.5" fill="none" stroke="#3a72c8" stroke-width="2.6" stroke-linejoin="round" stroke-linecap="round" />
<polyline points="224.5,125.1 226.5,124.2 228.5,124.0 230.5,123.4 232.5,125.0 234.5,123.5 236.5,124.3 238.5,123.9 240.5,123.9 242.5,123.9 244.5,123.6 246.5,123.3 248.5,124.3 250.5,124.8 252.5,124.5 254.5,123.6 256.5,124.6 258.5,123.3 260.5,124.0 262.5,124.9 264.5,125.0 266.5,124.1 268.5,124.9 270.5,124.2 272.5,124.2 274.5,124.4 276.5,125.2 278.5,124.7 280.5,124.1 282.5,124.7 284.5,124.5 286.5,123.9 288.5,124.8 290.5,124.8 292.5,124.4 294.5,125.1 296.5,123.2 298.5,124.2 300.5,124.5 302.5,123.9 304.5,123.5 306.5,124.6 308.5,124.1 310.5,123.7 312.5,123.3 314.5,125.1 316.5,123.9 318.5,123.4 320.5,123.6 322.5,123.7 324.5,124.9 326.5,123.6 328.5,123.8 330.5,123.4 332.5,124.1 334.5,123.6 336.5,123.9 338.5,124.7 340.5,125.1 342.5,124.9 344.5,123.3 346.5,124.0 348.5,124.9 350.5,123.3 352.5,123.6 354.5,124.2 356.5,124.0 358.5,124.7 360.5,124.6 362.5,124.1 364.5,123.7 366.5,123.7 368.5,123.7 370.5,123.3 372.5,124.5 374.5,123.5 376.5,125.0 378.5,124.5 380.5,123.3 382.5,124.2 384.5,124.4 386.5,123.3 388.5,124.2 390.5,123.3 392.5,124.7 394.5,123.2 396.5,124.5 398.5,125.2 400.5,124.9 402.5,123.7 404.5,124.3 406.5,123.5 408.5,123.9" fill="none" stroke="#ef6a24" stroke-width="3.0" stroke-linejoin="round" stroke-linecap="round" />
<circle cx="311.5" cy="119.0" r="1.5" fill="#000"/>
<circle cx="314.0" cy="118.6" r="1.5" fill="#000"/>
<circle cx="317.0" cy="118.8" r="1.5" fill="#000"/>
<circle cx="320.0" cy="119.2" r="1.5" fill="#000"/>
<circle cx="323.0" cy="119.6" r="1.5" fill="#000"/>
<circle cx="334.0" cy="120.8" r="1.5" fill="#000"/>
<circle cx="336.5" cy="121.2" r="1.5" fill="#000"/>
</g>
<text x="13.2" y="245.4" font-size="14.2" text-anchor="start" font-weight="bold" fill="#000" stroke="#000" stroke-width="0.35">B</text>
<path d="M70.8,243.2 V337.9 H166.0" fill="none" stroke="#000" stroke-width="1.6"/>
<line x1="68.0" y1="243.2" x2="70.8" y2="243.2" stroke="#000" stroke-width="1.15" />
<text x="68.1" y="245.79999999999998" font-size="7.0" text-anchor="end" font-weight="bold" fill="#000" >100</text>
<line x1="68.0" y1="258.87" x2="70.8" y2="258.87" stroke="#000" stroke-width="1.15" />
<text x="68.1" y="261.47" font-size="7.0" text-anchor="end" font-weight="bold" fill="#000" >99</text>
<line x1="68.0" y1="274.53999999999996" x2="70.8" y2="274.53999999999996" stroke="#000" stroke-width="1.15" />
<text x="68.1" y="277.14" font-size="7.0" text-anchor="end" font-weight="bold" fill="#000" >98</text>
<line x1="68.0" y1="290.21" x2="70.8" y2="290.21" stroke="#000" stroke-width="1.15" />
<text x="68.1" y="292.81" font-size="7.0" text-anchor="end" font-weight="bold" fill="#000" >97</text>
<line x1="68.0" y1="305.88" x2="70.8" y2="305.88" stroke="#000" stroke-width="1.15" />
<text x="68.1" y="308.48" font-size="7.0" text-anchor="end" font-weight="bold" fill="#000" >96</text>
<line x1="68.0" y1="321.54999999999995" x2="70.8" y2="321.54999999999995" stroke="#000" stroke-width="1.15" />
<text x="68.1" y="324.15" font-size="7.0" text-anchor="end" font-weight="bold" fill="#000" >95</text>
<line x1="68.0" y1="337.21999999999997" x2="70.8" y2="337.21999999999997" stroke="#000" stroke-width="1.15" />
<text x="68.1" y="339.82" font-size="7.0" text-anchor="end" font-weight="bold" fill="#000" >94</text>
<g transform="translate(43.4,287.5) rotate(-90)"><text x="0" y="0" font-size="7.4" font-weight="bold" text-anchor="middle" textLength="47.0" lengthAdjust="spacingAndGlyphs">Mean arterial</text></g>
<g transform="translate(50.6,289.9) rotate(-90)"><text x="0" y="0" font-size="7.4" font-weight="bold" text-anchor="middle" textLength="78.5" lengthAdjust="spacingAndGlyphs">oxygen saturation (%)</text></g>
<path d="M82.3,258.0 V256.0 H105.7 V258.0" fill="none" stroke="#000" stroke-width="1.5"/>
<path d="M107.2,258.0 V256.0 H129.2 V258.0" fill="none" stroke="#000" stroke-width="1.5"/>
<path d="M107.2,246.6 V244.6 H153.4 V246.6" fill="none" stroke="#000" stroke-width="1.5"/>
<text x="93.8" y="257.0" font-size="12.5" text-anchor="middle" font-weight="bold" fill="#000" >**</text>
<text x="118.6" y="257.0" font-size="12.5" text-anchor="middle" font-weight="bold" fill="#000" >*</text>
<text x="118.8" y="245.6" font-size="12.5" text-anchor="middle" font-weight="bold" fill="#000" >**</text>
<circle cx="77.0" cy="270.1" r="1.85" fill="#fff" stroke="#000" stroke-width="1.05"/>
<circle cx="82.9" cy="268.1" r="1.85" fill="#fff" stroke="#000" stroke-width="1.05"/>
<circle cx="88.6" cy="270.1" r="1.85" fill="#fff" stroke="#000" stroke-width="1.05"/>
<circle cx="80.9" cy="273.2" r="1.85" fill="#fff" stroke="#000" stroke-width="1.05"/>
<circle cx="85.5" cy="271.6" r="1.85" fill="#fff" stroke="#000" stroke-width="1.05"/>
<circle cx="87.1" cy="274.7" r="1.85" fill="#fff" stroke="#000" stroke-width="1.05"/>
<circle cx="78.5" cy="277.8" r="1.85" fill="#fff" stroke="#000" stroke-width="1.05"/>
<circle cx="83.2" cy="277.8" r="1.85" fill="#fff" stroke="#000" stroke-width="1.05"/>
<circle cx="76.5" cy="282.5" r="1.85" fill="#fff" stroke="#000" stroke-width="1.05"/>
<circle cx="79.5" cy="282.8" r="1.85" fill="#fff" stroke="#000" stroke-width="1.05"/>
<circle cx="82.5" cy="283.8" r="1.85" fill="#fff" stroke="#000" stroke-width="1.05"/>
<circle cx="85.5" cy="283.0" r="1.85" fill="#fff" stroke="#000" stroke-width="1.05"/>
<circle cx="88.5" cy="282.5" r="1.85" fill="#fff" stroke="#000" stroke-width="1.05"/>
<circle cx="82.9" cy="293.4" r="1.85" fill="#fff" stroke="#000" stroke-width="1.05"/>
<circle cx="82.9" cy="301.6" r="1.85" fill="#fff" stroke="#000" stroke-width="1.05"/>
<circle cx="106.5" cy="277.8" r="1.85" fill="#fff" stroke="#000" stroke-width="1.05"/>
<circle cx="102.3" cy="288.7" r="1.85" fill="#fff" stroke="#000" stroke-width="1.05"/>
<circle cx="106.5" cy="290.3" r="1.85" fill="#fff" stroke="#000" stroke-width="1.05"/>
<circle cx="110.7" cy="290.3" r="1.85" fill="#fff" stroke="#000" stroke-width="1.05"/>
<circle cx="106.5" cy="296.8" r="1.85" fill="#000" stroke="#000" stroke-width="1.05"/>
<circle cx="106.5" cy="301.6" r="1.85" fill="#fff" stroke="#000" stroke-width="1.05"/>
<circle cx="104.4" cy="306.2" r="1.85" fill="#fff" stroke="#000" stroke-width="1.05"/>
<circle cx="108.8" cy="309.7" r="1.85" fill="#fff" stroke="#000" stroke-width="1.05"/>
<circle cx="106.5" cy="317.4" r="1.85" fill="#fff" stroke="#000" stroke-width="1.05"/>
<circle cx="130.1" cy="277.9" r="1.85" fill="#fff" stroke="#000" stroke-width="1.05"/>
<circle cx="124.3" cy="282.8" r="1.85" fill="#fff" stroke="#000" stroke-width="1.05"/>
<circle cx="128.2" cy="282.8" r="1.85" fill="#fff" stroke="#000" stroke-width="1.05"/>
<circle cx="132.1" cy="282.8" r="1.85" fill="#fff" stroke="#000" stroke-width="1.05"/>
<circle cx="136.0" cy="282.8" r="1.85" fill="#fff" stroke="#000" stroke-width="1.05"/>
<circle cx="130.1" cy="290.3" r="1.85" fill="#fff" stroke="#000" stroke-width="1.05"/>
<circle cx="130.1" cy="300.1" r="1.85" fill="#fff" stroke="#000" stroke-width="1.05"/>
<circle cx="148.4" cy="271.2" r="1.85" fill="#fff" stroke="#000" stroke-width="1.05"/>
<circle cx="159.3" cy="272.4" r="1.85" fill="#fff" stroke="#000" stroke-width="1.05"/>
<circle cx="151.5" cy="274.0" r="1.85" fill="#fff" stroke="#000" stroke-width="1.05"/>
<circle cx="155.0" cy="274.0" r="1.85" fill="#fff" stroke="#000" stroke-width="1.05"/>
<circle cx="149.5" cy="281.0" r="1.85" fill="#fff" stroke="#000" stroke-width="1.05"/>
<circle cx="153.8" cy="281.0" r="1.85" fill="#fff" stroke="#000" stroke-width="1.05"/>
<circle cx="158.2" cy="279.4" r="1.85" fill="#fff" stroke="#000" stroke-width="1.05"/>
<circle cx="153.8" cy="293.4" r="1.85" fill="#fff" stroke="#000" stroke-width="1.05"/>
<line x1="75.4" y1="282.6" x2="90.2" y2="282.6" stroke="#000" stroke-width="1.4" />
<line x1="98.7" y1="296.8" x2="114.2" y2="296.8" stroke="#000" stroke-width="1.4" />
<line x1="122.8" y1="282.8" x2="138" y2="282.8" stroke="#000" stroke-width="1.4" />
<line x1="146" y1="274.2" x2="161.6" y2="274.2" stroke="#000" stroke-width="1.4" />
<text x="76.2" y="354.9" font-size="6.3" text-anchor="end" font-weight="bold" fill="#000" textLength="45" lengthAdjust="spacingAndGlyphs" >LPS (0.5mg/kg)</text>
<text transform="translate(76.2,368.5) scale(0.975,1)" x="0" y="0" font-size="6.3" text-anchor="end" font-weight="bold" fill="#000">Anti-H-2K<tspan font-size="4.3" dy="-2.6">d</tspan><tspan dy="2.6"> mAb (1mg/kg)</tspan></text>
<text x="76.2" y="381.5" font-size="6.3" text-anchor="end" font-weight="bold" fill="#000" textLength="49.4" lengthAdjust="spacingAndGlyphs" >DNase i.n. (50µg)</text>
<text x="83" y="354.9" font-size="6.3" text-anchor="middle" font-weight="bold" fill="#000" >-</text>
<text x="83" y="368.2" font-size="6.3" text-anchor="middle" font-weight="bold" fill="#000" >-</text>
<text x="83" y="381.5" font-size="6.3" text-anchor="middle" font-weight="bold" fill="#000" >-</text>
<text x="106.6" y="354.9" font-size="6.3" text-anchor="middle" font-weight="bold" fill="#000" >+</text>
<text x="106.6" y="368.2" font-size="6.3" text-anchor="middle" font-weight="bold" fill="#000" >+</text>
<text x="106.6" y="381.5" font-size="6.3" text-anchor="middle" font-weight="bold" fill="#000" >-</text>
<text x="129.8" y="354.9" font-size="6.3" text-anchor="middle" font-weight="bold" fill="#000" >+</text>
<text x="129.8" y="368.2" font-size="6.3" text-anchor="middle" font-weight="bold" fill="#000" >+</text>
<text x="129.8" y="381.5" font-size="6.3" text-anchor="middle" font-weight="bold" fill="#000" >Pre</text>
<text x="153" y="354.9" font-size="6.3" text-anchor="middle" font-weight="bold" fill="#000" >+</text>
<text x="153" y="368.2" font-size="6.3" text-anchor="middle" font-weight="bold" fill="#000" >+</text>
<text x="153" y="381.5" font-size="6.3" text-anchor="middle" font-weight="bold" fill="#000" >Post</text>
<text x="181.8" y="245.0" font-size="13.8" text-anchor="start" font-weight="bold" fill="#000" stroke="#000" stroke-width="0.35">C</text>
<path d="M241.8,243.4 V337.5 H336.0" fill="none" stroke="#000" stroke-width="1.6"/>
<line x1="239.0" y1="243.4" x2="241.8" y2="243.4" stroke="#000" stroke-width="1.15" />
<text x="239.10000000000002" y="246.0" font-size="7.0" text-anchor="end" font-weight="bold" fill="#000" >100</text>
<line x1="239.0" y1="255.16" x2="241.8" y2="255.16" stroke="#000" stroke-width="1.15" />
<text x="239.10000000000002" y="257.76" font-size="7.0" text-anchor="end" font-weight="bold" fill="#000" >95</text>
<line x1="239.0" y1="266.92" x2="241.8" y2="266.92" stroke="#000" stroke-width="1.15" />
<text x="239.10000000000002" y="269.52000000000004" font-size="7.0" text-anchor="end" font-weight="bold" fill="#000" >90</text>
<line x1="239.0" y1="278.68" x2="241.8" y2="278.68" stroke="#000" stroke-width="1.15" />
<text x="239.10000000000002" y="281.28000000000003" font-size="7.0" text-anchor="end" font-weight="bold" fill="#000" >85</text>
<line x1="239.0" y1="290.44" x2="241.8" y2="290.44" stroke="#000" stroke-width="1.15" />
<text x="239.10000000000002" y="293.04" font-size="7.0" text-anchor="end" font-weight="bold" fill="#000" >80</text>
<line x1="239.0" y1="302.2" x2="241.8" y2="302.2" stroke="#000" stroke-width="1.15" />
<text x="239.10000000000002" y="304.8" font-size="7.0" text-anchor="end" font-weight="bold" fill="#000" >75</text>
<line x1="239.0" y1="313.96000000000004" x2="241.8" y2="313.96000000000004" stroke="#000" stroke-width="1.15" />
<text x="239.10000000000002" y="316.56000000000006" font-size="7.0" text-anchor="end" font-weight="bold" fill="#000" >70</text>
<line x1="239.0" y1="325.72" x2="241.8" y2="325.72" stroke="#000" stroke-width="1.15" />
<text x="239.10000000000002" y="328.32000000000005" font-size="7.0" text-anchor="end" font-weight="bold" fill="#000" >65</text>
<line x1="239.0" y1="337.48" x2="241.8" y2="337.48" stroke="#000" stroke-width="1.15" />
<text x="239.10000000000002" y="340.08000000000004" font-size="7.0" text-anchor="end" font-weight="bold" fill="#000" >60</text>
<g transform="translate(213.4,288.5) rotate(-90)"><text x="0" y="0" font-size="7.4" font-weight="bold" text-anchor="middle" textLength="59.0" lengthAdjust="spacingAndGlyphs">Minimum arterial</text></g>
<g transform="translate(221.2,288.9) rotate(-90)"><text x="0" y="0" font-size="7.4" font-weight="bold" text-anchor="middle" textLength="79.5" lengthAdjust="spacingAndGlyphs">oxygen saturation (%)</text></g>
<path d="M253.3,254.2 V252.2 H276.1 V254.2" fill="none" stroke="#000" stroke-width="1.5"/>
<path d="M280.2,254.2 V252.2 H304.2 V254.2" fill="none" stroke="#000" stroke-width="1.5"/>
<path d="M280.2,249.6 V247.6 H328.2 V249.6" fill="none" stroke="#000" stroke-width="1.5"/>
<text x="265.6" y="253.6" font-size="12.5" text-anchor="middle" font-weight="bold" fill="#000" >*</text>
<text x="292.3" y="248.2" font-size="12.5" text-anchor="middle" font-weight="bold" fill="#000" >*</text>
<circle cx="251.3" cy="263.2" r="1.85" fill="#000" stroke="#000" stroke-width="1.05"/>
<circle cx="255.6" cy="262.8" r="1.85" fill="#fff" stroke="#000" stroke-width="1.05"/>
<circle cx="255.6" cy="268.2" r="1.85" fill="#000" stroke="#000" stroke-width="1.05"/>
<circle cx="251.3" cy="273.5" r="1.85" fill="#fff" stroke="#000" stroke-width="1.05"/>
<circle cx="251.3" cy="276.5" r="1.85" fill="#fff" stroke="#000" stroke-width="1.05"/>
<circle cx="255.6" cy="278.3" r="1.85" fill="#fff" stroke="#000" stroke-width="1.05"/>
<circle cx="247.8" cy="280.3" r="1.85" fill="#000" stroke="#000" stroke-width="1.05"/>
<circle cx="250.7" cy="282.4" r="1.85" fill="#fff" stroke="#000" stroke-width="1.05"/>
<circle cx="253.4" cy="284.8" r="1.85" fill="#fff" stroke="#000" stroke-width="1.05"/>
<circle cx="256.7" cy="284.8" r="1.85" fill="#fff" stroke="#000" stroke-width="1.05"/>
<circle cx="259.5" cy="280.7" r="1.85" fill="#fff" stroke="#000" stroke-width="1.05"/>
<circle cx="251.3" cy="296.2" r="1.85" fill="#fff" stroke="#000" stroke-width="1.05"/>
<circle cx="255.6" cy="297.2" r="1.85" fill="#fff" stroke="#000" stroke-width="1.05"/>
<circle cx="255.6" cy="304.0" r="1.85" fill="#fff" stroke="#000" stroke-width="1.05"/>
<circle cx="251.3" cy="308.5" r="1.85" fill="#fff" stroke="#000" stroke-width="1.05"/>
<circle cx="277.0" cy="271.0" r="1.85" fill="#fff" stroke="#000" stroke-width="1.05"/>
<circle cx="274.6" cy="288.1" r="1.85" fill="#fff" stroke="#000" stroke-width="1.05"/>
<circle cx="279.5" cy="288.1" r="1.85" fill="#fff" stroke="#000" stroke-width="1.05"/>
<circle cx="277.0" cy="292.9" r="1.85" fill="#fff" stroke="#000" stroke-width="1.05"/>
<circle cx="274.6" cy="301.3" r="1.85" fill="#000" stroke="#000" stroke-width="1.05"/>
<circle cx="278.9" cy="299.4" r="1.85" fill="#fff" stroke="#000" stroke-width="1.05"/>
<circle cx="278.9" cy="306.0" r="1.85" fill="#fff" stroke="#000" stroke-width="1.05"/>
<circle cx="277.0" cy="323.5" r="1.85" fill="#fff" stroke="#000" stroke-width="1.05"/>
<circle cx="296.3" cy="270.7" r="1.85" fill="#fff" stroke="#000" stroke-width="1.05"/>
<circle cx="300.5" cy="272.8" r="1.85" fill="#fff" stroke="#000" stroke-width="1.05"/>
<circle cx="304.8" cy="272.1" r="1.85" fill="#fff" stroke="#000" stroke-width="1.05"/>
<circle cx="298.3" cy="276.8" r="1.85" fill="#000" stroke="#000" stroke-width="1.05"/>
<circle cx="302.5" cy="279.9" r="1.85" fill="#fff" stroke="#000" stroke-width="1.05"/>
<circle cx="298.3" cy="290.9" r="1.85" fill="#fff" stroke="#000" stroke-width="1.05"/>
<circle cx="302.5" cy="288.5" r="1.85" fill="#fff" stroke="#000" stroke-width="1.05"/>
<circle cx="324.3" cy="261.4" r="1.85" fill="#fff" stroke="#000" stroke-width="1.05"/>
<circle cx="319.6" cy="268.8" r="1.85" fill="#fff" stroke="#000" stroke-width="1.05"/>
<circle cx="328.6" cy="267.1" r="1.85" fill="#fff" stroke="#000" stroke-width="1.05"/>
<circle cx="324.3" cy="270.7" r="1.85" fill="#fff" stroke="#000" stroke-width="1.05"/>
<circle cx="319.6" cy="275.4" r="1.85" fill="#000" stroke="#000" stroke-width="1.05"/>
<circle cx="324.3" cy="279.5" r="1.85" fill="#fff" stroke="#000" stroke-width="1.05"/>
<circle cx="328.6" cy="279.2" r="1.85" fill="#fff" stroke="#000" stroke-width="1.05"/>
<circle cx="324.3" cy="290.6" r="1.85" fill="#fff" stroke="#000" stroke-width="1.05"/>
<circle cx="324.3" cy="303.1" r="1.85" fill="#fff" stroke="#000" stroke-width="1.05"/>
<line x1="245.8" y1="280.5" x2="260.4" y2="280.5" stroke="#000" stroke-width="1.4" />
<line x1="269.6" y1="299.4" x2="284.7" y2="299.4" stroke="#000" stroke-width="1.4" />
<line x1="293" y1="276.8" x2="308.7" y2="276.8" stroke="#000" stroke-width="1.4" />
<line x1="316.5" y1="275.4" x2="331.4" y2="275.4" stroke="#000" stroke-width="1.4" />
<text x="246.8" y="354.9" font-size="6.3" text-anchor="end" font-weight="bold" fill="#000" textLength="45" lengthAdjust="spacingAndGlyphs" >LPS (0.5mg/kg)</text>
<text transform="translate(246.8,368.5) scale(0.975,1)" x="0" y="0" font-size="6.3" text-anchor="end" font-weight="bold" fill="#000">Anti-H-2K<tspan font-size="4.3" dy="-2.6">d</tspan><tspan dy="2.6"> mAb (1mg/kg)</tspan></text>
<text x="246.8" y="381.5" font-size="6.3" text-anchor="end" font-weight="bold" fill="#000" textLength="49.4" lengthAdjust="spacingAndGlyphs" >DNase i.n. (50µg)</text>
<text x="254.1" y="354.9" font-size="6.3" text-anchor="middle" font-weight="bold" fill="#000" >-</text>
<text x="254.1" y="368.2" font-size="6.3" text-anchor="middle" font-weight="bold" fill="#000" >-</text>
<text x="254.1" y="381.5" font-size="6.3" text-anchor="middle" font-weight="bold" fill="#000" >-</text>
<text x="277.3" y="354.9" font-size="6.3" text-anchor="middle" font-weight="bold" fill="#000" >+</text>
<text x="277.3" y="368.2" font-size="6.3" text-anchor="middle" font-weight="bold" fill="#000" >+</text>
<text x="277.3" y="381.5" font-size="6.3" text-anchor="middle" font-weight="bold" fill="#000" >-</text>
<text x="300.8" y="354.9" font-size="6.3" text-anchor="middle" font-weight="bold" fill="#000" >+</text>
<text x="300.8" y="368.2" font-size="6.3" text-anchor="middle" font-weight="bold" fill="#000" >+</text>
<text x="300.8" y="381.5" font-size="6.3" text-anchor="middle" font-weight="bold" fill="#000" >Pre</text>
<text x="324" y="354.9" font-size="6.3" text-anchor="middle" font-weight="bold" fill="#000" >+</text>
<text x="324" y="368.2" font-size="6.3" text-anchor="middle" font-weight="bold" fill="#000" >+</text>
<text x="324" y="381.5" font-size="6.3" text-anchor="middle" font-weight="bold" fill="#000" >Post</text>
<text x="365.2" y="244.4" font-size="14.2" text-anchor="start" font-weight="bold" fill="#000" stroke="#000" stroke-width="0.35">D</text>
<path d="M419.0,242.1 V337.8 H515.5" fill="none" stroke="#000" stroke-width="1.6"/>
<line x1="416.2" y1="242.1" x2="419.0" y2="242.1" stroke="#000" stroke-width="1.15" />
<text x="416.3" y="244.7" font-size="7.0" text-anchor="end" font-weight="bold" fill="#000" >38</text>
<line x1="416.2" y1="261.24" x2="419.0" y2="261.24" stroke="#000" stroke-width="1.15" />
<text x="416.3" y="263.84000000000003" font-size="7.0" text-anchor="end" font-weight="bold" fill="#000" >37</text>
<line x1="416.2" y1="280.38" x2="419.0" y2="280.38" stroke="#000" stroke-width="1.15" />
<text x="416.3" y="282.98" font-size="7.0" text-anchor="end" font-weight="bold" fill="#000" >36</text>
<line x1="416.2" y1="299.52" x2="419.0" y2="299.52" stroke="#000" stroke-width="1.15" />
<text x="416.3" y="302.12" font-size="7.0" text-anchor="end" font-weight="bold" fill="#000" >35</text>
<line x1="416.2" y1="318.65999999999997" x2="419.0" y2="318.65999999999997" stroke="#000" stroke-width="1.15" />
<text x="416.3" y="321.26" font-size="7.0" text-anchor="end" font-weight="bold" fill="#000" >34</text>
<line x1="416.2" y1="337.8" x2="419.0" y2="337.8" stroke="#000" stroke-width="1.15" />
<text x="416.3" y="340.40000000000003" font-size="7.0" text-anchor="end" font-weight="bold" fill="#000" >33</text>
<g transform="translate(400.3,288.0) rotate(-90)"><text x="0" y="0" font-size="7.4" font-weight="bold" text-anchor="middle" textLength="87.5" lengthAdjust="spacingAndGlyphs">Rectal Temperature (°C)</text></g>
<path d="M430.6,243.9 V241.9 H454.6 V243.9" fill="none" stroke="#000" stroke-width="1.5"/>
<path d="M457.5,243.9 V241.9 H479.2 V243.9" fill="none" stroke="#000" stroke-width="1.5"/>
<path d="M457.5,238.5 V236.5 H503.3 V238.5" fill="none" stroke="#000" stroke-width="1.5"/>
<text x="442.1" y="241.8" font-size="12.5" text-anchor="middle" font-weight="bold" fill="#000" >***</text>
<text x="468.1" y="236.8" font-size="12.5" text-anchor="middle" font-weight="bold" fill="#000" >**</text>
<circle cx="428.9" cy="251.7" r="1.85" fill="#fff" stroke="#000" stroke-width="1.05"/>
<circle cx="433.0" cy="251.7" r="1.85" fill="#fff" stroke="#000" stroke-width="1.05"/>
<circle cx="425.0" cy="259.0" r="1.85" fill="#fff" stroke="#000" stroke-width="1.05"/>
<circle cx="428.9" cy="261.0" r="1.85" fill="#fff" stroke="#000" stroke-width="1.05"/>
<circle cx="433.0" cy="259.0" r="1.85" fill="#fff" stroke="#000" stroke-width="1.05"/>
<circle cx="437.1" cy="257.2" r="1.85" fill="#fff" stroke="#000" stroke-width="1.05"/>
<circle cx="426.8" cy="264.1" r="1.85" fill="#fff" stroke="#000" stroke-width="1.05"/>
<circle cx="435.1" cy="262.8" r="1.85" fill="#fff" stroke="#000" stroke-width="1.05"/>
<circle cx="430.9" cy="266.7" r="1.85" fill="#fff" stroke="#000" stroke-width="1.05"/>
<circle cx="425.0" cy="269.3" r="1.85" fill="#000" stroke="#000" stroke-width="1.05"/>
<circle cx="437.1" cy="268.8" r="1.85" fill="#fff" stroke="#000" stroke-width="1.05"/>
<circle cx="427.3" cy="271.4" r="1.85" fill="#fff" stroke="#000" stroke-width="1.05"/>
<circle cx="429.4" cy="272.1" r="1.85" fill="#000" stroke="#000" stroke-width="1.05"/>
<circle cx="433.5" cy="271.4" r="1.85" fill="#fff" stroke="#000" stroke-width="1.05"/>
<circle cx="436.1" cy="272.1" r="1.85" fill="#fff" stroke="#000" stroke-width="1.05"/>
<circle cx="425.8" cy="274.5" r="1.85" fill="#fff" stroke="#000" stroke-width="1.05"/>
<circle cx="428.3" cy="275.0" r="1.85" fill="#fff" stroke="#000" stroke-width="1.05"/>
<circle cx="430.9" cy="275.5" r="1.85" fill="#000" stroke="#000" stroke-width="1.05"/>
<circle cx="433.5" cy="275.0" r="1.85" fill="#fff" stroke="#000" stroke-width="1.05"/>
<circle cx="436.4" cy="274.5" r="1.85" fill="#fff" stroke="#000" stroke-width="1.05"/>
<circle cx="429.4" cy="277.1" r="1.85" fill="#fff" stroke="#000" stroke-width="1.05"/>
<circle cx="432.5" cy="277.1" r="1.85" fill="#fff" stroke="#000" stroke-width="1.05"/>
<circle cx="430.9" cy="278.6" r="1.85" fill="#fff" stroke="#000" stroke-width="1.05"/>
<circle cx="430.7" cy="299.5" r="1.85" fill="#fff" stroke="#000" stroke-width="1.05"/>
<circle cx="455.1" cy="278.2" r="1.85" fill="#fff" stroke="#000" stroke-width="1.05"/>
<circle cx="455.1" cy="284.2" r="1.85" fill="#fff" stroke="#000" stroke-width="1.05"/>
<circle cx="455.1" cy="289.0" r="1.85" fill="#fff" stroke="#000" stroke-width="1.05"/>
<circle cx="459.6" cy="292.1" r="1.85" fill="#fff" stroke="#000" stroke-width="1.05"/>
<circle cx="450.6" cy="293.4" r="1.85" fill="#000" stroke="#000" stroke-width="1.05"/>
<circle cx="455.1" cy="296.5" r="1.85" fill="#fff" stroke="#000" stroke-width="1.05"/>
<circle cx="455.1" cy="303.6" r="1.85" fill="#fff" stroke="#000" stroke-width="1.05"/>
<circle cx="455.1" cy="308.9" r="1.85" fill="#fff" stroke="#000" stroke-width="1.05"/>
<circle cx="455.1" cy="322.3" r="1.85" fill="#fff" stroke="#000" stroke-width="1.05"/>
<circle cx="478.8" cy="257.4" r="1.85" fill="#fff" stroke="#000" stroke-width="1.05"/>
<circle cx="478.8" cy="266.8" r="1.85" fill="#fff" stroke="#000" stroke-width="1.05"/>
<circle cx="476.4" cy="272.1" r="1.85" fill="#000" stroke="#000" stroke-width="1.05"/>
<circle cx="481.4" cy="272.1" r="1.85" fill="#000" stroke="#000" stroke-width="1.05"/>
<circle cx="476.4" cy="276.6" r="1.85" fill="#fff" stroke="#000" stroke-width="1.05"/>
<circle cx="481.0" cy="280.2" r="1.85" fill="#fff" stroke="#000" stroke-width="1.05"/>
<circle cx="478.8" cy="289.9" r="1.85" fill="#fff" stroke="#000" stroke-width="1.05"/>
<circle cx="500.6" cy="270.6" r="1.85" fill="#fff" stroke="#000" stroke-width="1.05"/>
<circle cx="505.6" cy="270.6" r="1.85" fill="#fff" stroke="#000" stroke-width="1.05"/>
<circle cx="498.5" cy="274.6" r="1.85" fill="#fff" stroke="#000" stroke-width="1.05"/>
<circle cx="507.5" cy="272.8" r="1.85" fill="#fff" stroke="#000" stroke-width="1.05"/>
<circle cx="502.8" cy="276.3" r="1.85" fill="#000" stroke="#000" stroke-width="1.05"/>
<circle cx="496.6" cy="279.9" r="1.85" fill="#fff" stroke="#000" stroke-width="1.05"/>
<circle cx="505.3" cy="279.9" r="1.85" fill="#fff" stroke="#000" stroke-width="1.05"/>
<circle cx="509.2" cy="278.5" r="1.85" fill="#fff" stroke="#000" stroke-width="1.05"/>
<circle cx="500.6" cy="282.3" r="1.85" fill="#fff" stroke="#000" stroke-width="1.05"/>
<line x1="423.5" y1="271.6" x2="438" y2="271.6" stroke="#000" stroke-width="1.4" />
<line x1="447.2" y1="293.6" x2="461.8" y2="293.6" stroke="#000" stroke-width="1.4" />
<line x1="471" y1="272.1" x2="487.1" y2="272.1" stroke="#000" stroke-width="1.4" />
<line x1="494.9" y1="276.1" x2="510.6" y2="276.1" stroke="#000" stroke-width="1.4" />
<text x="424.8" y="354.9" font-size="6.3" text-anchor="end" font-weight="bold" fill="#000" textLength="45" lengthAdjust="spacingAndGlyphs" >LPS (0.5mg/kg)</text>
<text transform="translate(424.8,368.5) scale(0.975,1)" x="0" y="0" font-size="6.3" text-anchor="end" font-weight="bold" fill="#000">Anti-H-2K<tspan font-size="4.3" dy="-2.6">d</tspan><tspan dy="2.6"> mAb (1mg/kg)</tspan></text>
<text x="424.8" y="381.5" font-size="6.3" text-anchor="end" font-weight="bold" fill="#000" textLength="49.4" lengthAdjust="spacingAndGlyphs" >DNase i.n. (50µg)</text>
<text x="431.7" y="354.9" font-size="6.3" text-anchor="middle" font-weight="bold" fill="#000" >-</text>
<text x="431.7" y="368.2" font-size="6.3" text-anchor="middle" font-weight="bold" fill="#000" >-</text>
<text x="431.7" y="381.5" font-size="6.3" text-anchor="middle" font-weight="bold" fill="#000" >-</text>
<text x="455.3" y="354.9" font-size="6.3" text-anchor="middle" font-weight="bold" fill="#000" >+</text>
<text x="455.3" y="368.2" font-size="6.3" text-anchor="middle" font-weight="bold" fill="#000" >+</text>
<text x="455.3" y="381.5" font-size="6.3" text-anchor="middle" font-weight="bold" fill="#000" >-</text>
<text x="478.5" y="354.9" font-size="6.3" text-anchor="middle" font-weight="bold" fill="#000" >+</text>
<text x="478.5" y="368.2" font-size="6.3" text-anchor="middle" font-weight="bold" fill="#000" >+</text>
<text x="478.5" y="381.5" font-size="6.3" text-anchor="middle" font-weight="bold" fill="#000" >Pre</text>
<text x="502.7" y="354.9" font-size="6.3" text-anchor="middle" font-weight="bold" fill="#000" >+</text>
<text x="502.7" y="368.2" font-size="6.3" text-anchor="middle" font-weight="bold" fill="#000" >+</text>
<text x="502.7" y="381.5" font-size="6.3" text-anchor="middle" font-weight="bold" fill="#000" >Post</text>
</svg></body></html>
